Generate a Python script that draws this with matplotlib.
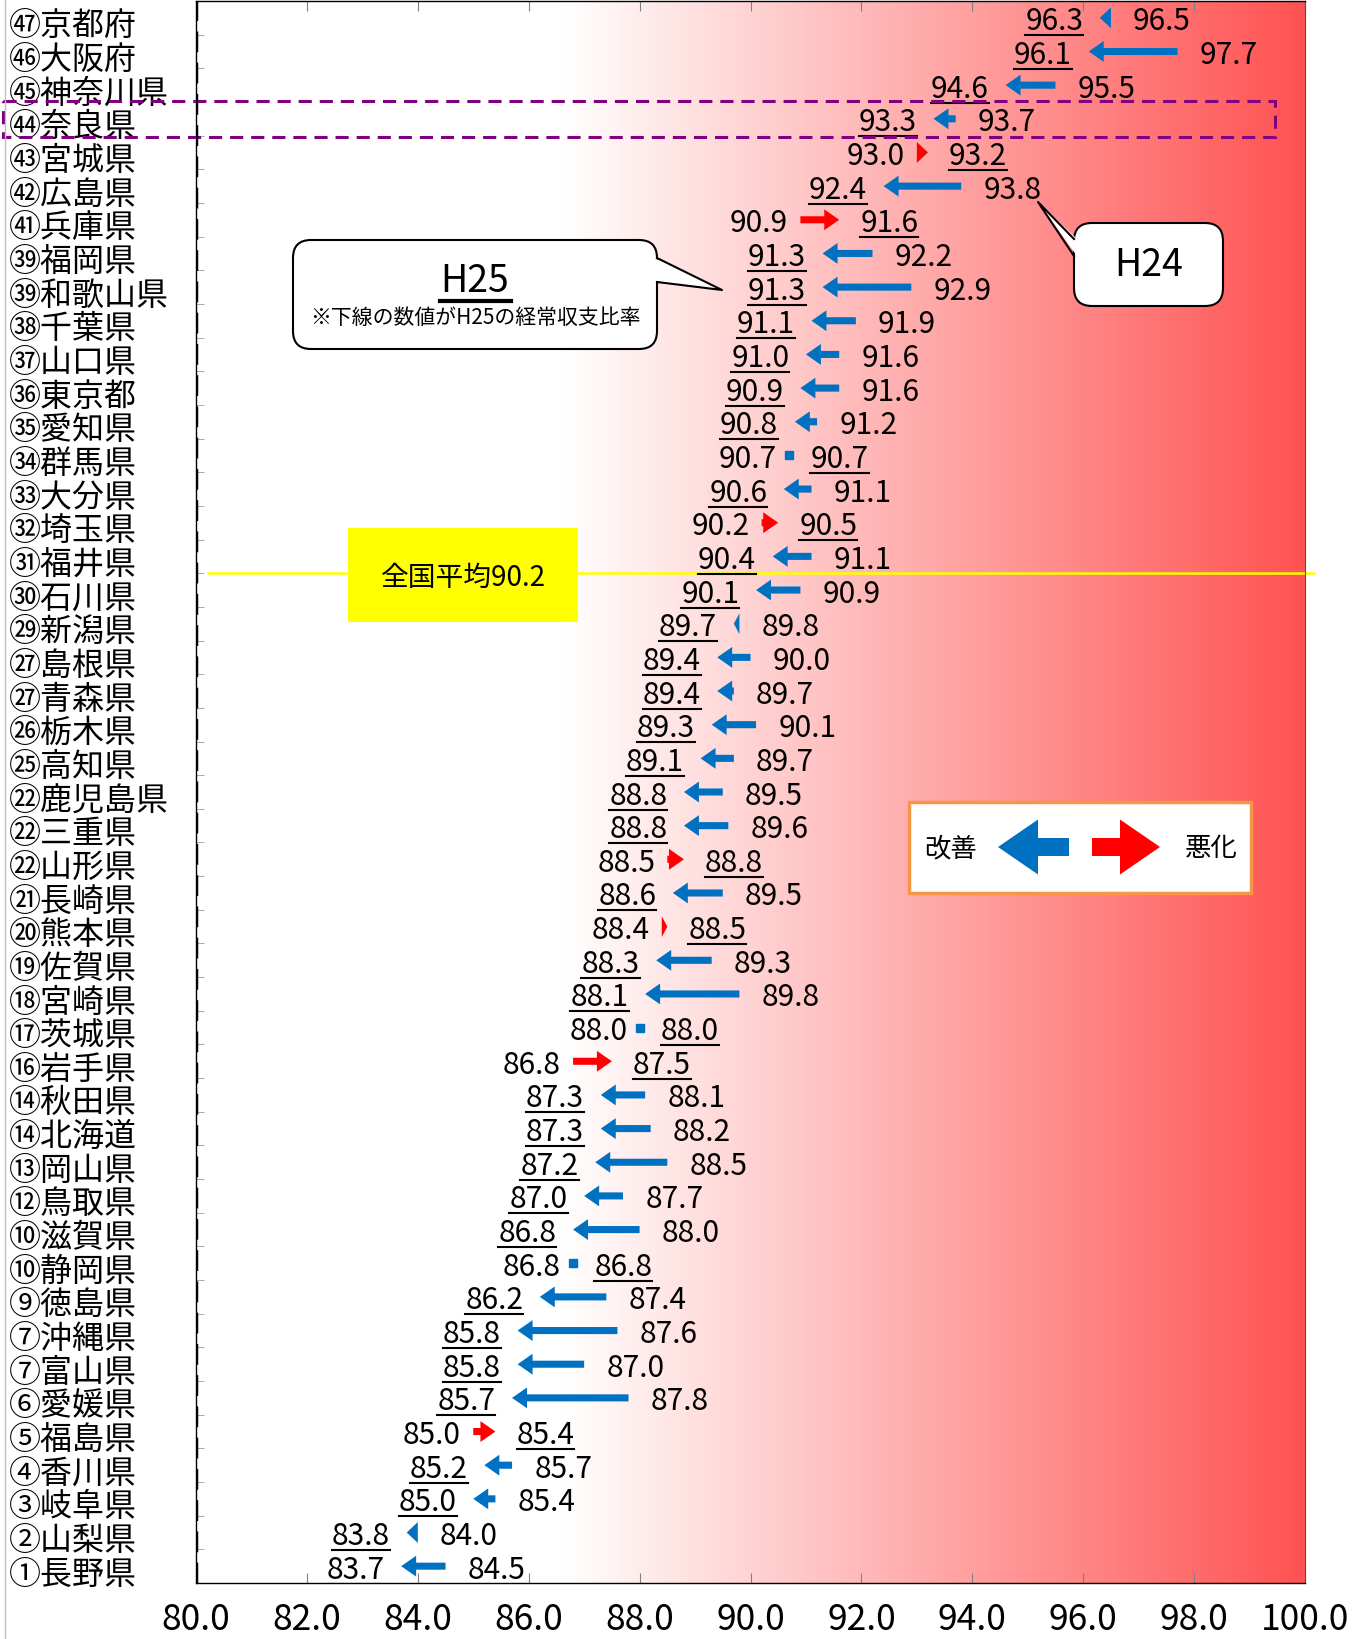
import numpy as np
import matplotlib
matplotlib.use('Agg')
import matplotlib.pyplot as plt
import matplotlib.transforms as mtransforms
from matplotlib.patches import FancyArrow, FancyBboxPatch, Rectangle, Polygon

plt.rcParams['font.family'] = ['Noto Sans CJK JP', 'DejaVu Sans']

# 経常収支比率 (H24 -> H25), ranked by H25
names = ['㊼京都府', '㊻大阪府', '㊺神奈川県', '㊹奈良県', '㊸宮城県', '㊷広島県', '㊶兵庫県',
         '㊴福岡県', '㊴和歌山県', '㊳千葉県', '㊲山口県', '㊱東京都', '㉟愛知県', '㉞群馬県',
         '㉝大分県', '㉜埼玉県', '㉛福井県', '㉚石川県', '㉙新潟県', '㉗島根県', '㉗青森県',
         '㉖栃木県', '㉕高知県', '㉒鹿児島県', '㉒三重県', '㉒山形県', '㉑長崎県', '⑳熊本県',
         '⑲佐賀県', '⑱宮崎県', '⑰茨城県', '⑯岩手県', '⑭秋田県', '⑭北海道', '⑬岡山県',
         '⑫鳥取県', '⑩滋賀県', '⑩静岡県', '⑨徳島県', '⑦沖縄県', '⑦富山県', '⑥愛媛県',
         '⑤福島県', '④香川県', '③岐阜県', '②山梨県', '①長野県']
h25 = [96.3, 96.1, 94.6, 93.3, 93.2, 92.4, 91.6, 91.3, 91.3, 91.1, 91.0, 90.9, 90.8, 90.7,
       90.6, 90.5, 90.4, 90.1, 89.7, 89.4, 89.4, 89.3, 89.1, 88.8, 88.8, 88.8, 88.6, 88.5,
       88.3, 88.1, 88.0, 87.5, 87.3, 87.3, 87.2, 87.0, 86.8, 86.8, 86.2, 85.8, 85.8, 85.7,
       85.4, 85.2, 85.0, 83.8, 83.7]
h24 = [96.5, 97.7, 95.5, 93.7, 93.0, 93.8, 90.9, 92.2, 92.9, 91.9, 91.6, 91.6, 91.2, 90.7,
       91.1, 90.2, 91.1, 90.9, 89.8, 90.0, 89.7, 90.1, 89.7, 89.5, 89.6, 88.5, 89.5, 88.4,
       89.3, 89.8, 88.0, 86.8, 88.1, 88.2, 88.5, 87.7, 88.0, 86.8, 87.4, 87.6, 87.0, 87.8,
       85.0, 85.7, 85.4, 84.0, 84.5]
national_avg = 90.2
highlight = '㊹奈良県'
xticks = np.arange(80, 101, 2)

BLUE = '#0070C0'
RED = '#FF0000'
VFS = 21.5

fig = plt.figure(figsize=(13.55, 16.4), dpi=100)
ax = fig.add_axes([196 / 1355, 56 / 1640, 1109 / 1355, 1582 / 1640])
n = len(names)
ax.set_xlim(80, 100)
ax.set_ylim(n - 0.5, -0.5)

# background gradient white -> red
gx = np.linspace(80, 100, 600)
t = np.clip((gx - 86.6) / 13.4, 0, 1)[:, None]
img = 1 - t * (1 - np.array([1.0, 0.32, 0.32]))
ax.imshow(img[None, :, :], extent=[80, 100, n - 0.5, -0.5], aspect='auto', zorder=0)

down = mtransforms.ScaledTranslation(0, -3 / 100, fig.dpi_scale_trans)
tr = ax.transData + down

under = []
for i, (a, b) in enumerate(zip(h24, h25)):
    d = round(b - a, 1)
    if d == 0:
        ax.plot(a, i, 's', ms=5.5, color=BLUE, zorder=3)
    else:
        col = BLUE if d < 0 else RED
        ax.add_patch(FancyArrow(a, i, d, 0, width=0.21, head_width=0.62,
                                head_length=min(0.27, abs(d)), length_includes_head=True,
                                color=col, lw=0, zorder=3))
    if d < 0:
        under.append(ax.text(b - 0.3, i, f'{b:.1f}', ha='right', va='center', fontsize=VFS,
                             transform=tr, zorder=4))
        ax.text(a + 0.4, i, f'{a:.1f}', ha='left', va='center', fontsize=VFS, transform=tr, zorder=4)
    else:
        ax.text(a - 0.22, i, f'{a:.1f}', ha='right', va='center', fontsize=VFS, transform=tr, zorder=4)
        under.append(ax.text(b + 0.38, i, f'{b:.1f}', ha='left', va='center', fontsize=VFS,
                             transform=tr, zorder=4))

# national average line
y_avg = sum(v > national_avg for v in h25) - 0.5
ax.plot([80.22, 100.16], [y_avg, y_avg], color='#FFFF00', lw=1.8, clip_on=False, zorder=2)

# highlighted row
hi = names.index(highlight)
ax.add_patch(Rectangle((76.52, hi - 0.53), 22.94, 1.07, fill=False, ec='#800080', lw=2.2,
                       ls=(0, (4.3, 2.6)), clip_on=False, zorder=5))

# axes styling
ax.set_xticks(xticks)
ax.set_xticklabels([f'{v:.1f}' for v in xticks], fontsize=25.5)
ax.tick_params(axis='x', direction='in', top=True, length=7, color='#808080', pad=13)
ax.set_yticks(np.arange(n))
ax.set_yticklabels(names, fontsize=23)
ax.set_yticks(np.arange(n - 1) + 0.5, minor=True)
ax.tick_params(axis='y', which='major', length=0, pad=135)
ax.tick_params(axis='y', which='minor', direction='in', length=6, color='#A0A0A0')
for lab in ax.get_yticklabels():
    lab.set_ha('left')
    lab.set_transform(lab.get_transform() + mtransforms.ScaledTranslation(0, -4 / 100, fig.dpi_scale_trans))
for s in ['top', 'bottom', 'left']:
    ax.spines[s].set_color('black')
    ax.spines[s].set_linewidth(1)
ax.spines['right'].set_color('#8B3A3A')
ax.axvline(80, color='black', lw=2.5, ls=(0, (6, 3)), zorder=5)

# overlay in pixel coordinates for annotation boxes
ov = fig.add_axes([0, 0, 1, 1], zorder=3)
ov.set_xlim(0, 1355)
ov.set_ylim(1640, 0)
ov.axis('off')
ov.patch.set_visible(False)
ov.plot([4.5, 4.5], [0, 1640], color='#BFBFBF', lw=1)


def callout(x0, y0, x1, y1, base, tip, inner):
    ov.add_patch(FancyBboxPatch((x0, y0), x1 - x0, y1 - y0, boxstyle='round,pad=0,rounding_size=18',
                                fc='white', ec='black', lw=1.5, zorder=2))
    (bx1, by1), (bx2, by2) = base
    ov.add_patch(Polygon([(bx1 + inner, by1), tip, (bx2 + inner, by2)], closed=True,
                         fc='white', ec='none', zorder=3))
    ov.plot([bx1, tip[0], bx2], [by1, tip[1], by2], color='black', lw=1.5, zorder=4)


callout(293, 241, 657, 350, [(657, 259), (657, 283)], (722, 291), -3)
ov.text(475, 281, 'H25', ha='center', va='center', fontsize=27, zorder=5)
ov.plot([440, 511], [302, 302], color='black', lw=3, zorder=5)
ov.text(475, 318, '※下線の数値がH25の経常収支比率', ha='center', va='center', fontsize=15, zorder=5)

callout(1074, 224, 1223, 307, [(1074, 240), (1074, 257)], (1038, 203), 3)
ov.text(1149, 266, 'H24', ha='center', va='center', fontsize=27, zorder=5)

# national average label
ov.add_patch(Rectangle((348, 529), 230, 94, fc='#FFFF00', ec='none', zorder=2))
ov.text(463, 578, f'全国平均{national_avg:.1f}', ha='center', va='center', fontsize=20, zorder=3)

# legend
ov.add_patch(Rectangle((909, 803), 342, 91, fc='white', ec='#F79646', lw=2.5, zorder=2))
ov.add_patch(FancyArrow(1069, 848, -71, 0, width=18, head_width=55, head_length=40,
                        length_includes_head=True, color=BLUE, lw=0, zorder=3))
ov.add_patch(FancyArrow(1092, 848, 68, 0, width=18, head_width=55, head_length=40,
                        length_includes_head=True, color=RED, lw=0, zorder=3))
ov.text(951, 849, '改善', ha='center', va='center', fontsize=19, zorder=3)
ov.text(1211, 849, '悪化', ha='center', va='center', fontsize=19, zorder=3)

# underline the H25 values
fig.canvas.draw()
inv = ax.transData.inverted()
for tx in under:
    bb = tx.get_window_extent()
    x0, y0 = inv.transform((bb.x0, bb.y0 + 1))
    x1, _ = inv.transform((bb.x1, bb.y0 + 1))
    ax.plot([x0, x1], [y0, y0], color='black', lw=1.5, zorder=4)

fig.savefig('out.png', dpi=100)
